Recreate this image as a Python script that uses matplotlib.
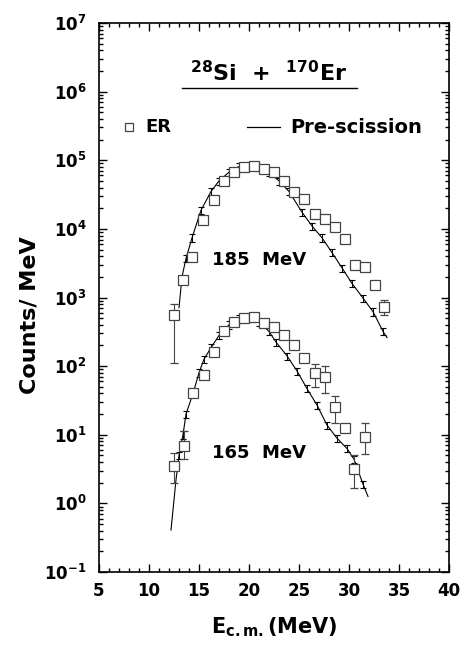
import matplotlib
matplotlib.use("Agg")
import matplotlib.pyplot as plt
import numpy as np
from matplotlib.ticker import FixedLocator, MultipleLocator, NullFormatter

plt.rcParams["font.family"] = ["DejaVu Sans"]
plt.rcParams["font.weight"] = "bold"
plt.rcParams["mathtext.default"] = "bf"

# ER data, 185 MeV
e_er_185 = [12.5, 13.4, 14.3, 15.4, 16.5, 17.5, 18.5, 19.5, 20.5, 21.5, 22.5, 23.5,
            24.5, 25.5, 26.6, 27.6, 28.6, 29.6, 30.6, 31.6, 32.6, 33.5]
y_er_185 = [560, 1800, 3900, 13500, 26000, 50000, 67000, 80000, 83000, 75000, 67000, 50000,
            35000, 27000, 16700, 14000, 10700, 7100, 3000, 2750, 1500, 720]
lo_er_185 = [450, 0, 0, 0, 0, 0, 0, 0, 0, 0, 0, 0,
             0, 0, 0, 0, 0, 0, 0, 0, 150, 170]
hi_er_185 = [240, 0, 0, 0, 0, 0, 0, 0, 0, 0, 0, 0,
             0, 0, 0, 0, 0, 0, 0, 0, 150, 200]

# ER data, 165 MeV
e_er_165 = [12.5, 13.5, 14.4, 15.5, 16.5, 17.5, 18.5, 19.5, 20.5, 21.5, 22.5, 23.5,
            24.5, 25.5, 26.6, 27.6, 28.6, 29.6, 30.5, 31.6]
y_er_165 = [3.5, 6.8, 41, 74, 160, 330, 440, 500, 515, 425, 370, 285,
            200, 130, 79, 69, 25, 12.6, 3.2, 9.3]
lo_er_165 = [1.5, 2.4, 0, 0, 0, 0, 0, 0, 0, 0, 0, 0,
             0, 0, 30, 28, 10, 0, 1.5, 4.0]
hi_er_165 = [2.0, 4.5, 0, 0, 0, 0, 0, 0, 0, 0, 0, 0,
             0, 0, 30, 30, 12, 0, 1.8, 5.5]

# pre-scission calculation
e_pre_185 = [13.0, 13.3, 13.7, 14.3, 15.2, 16.2, 17.0, 18.0, 19.0, 20.0, 21.0, 22.0,
             23.0, 24.0, 25.3, 26.3, 27.3, 28.3, 29.3, 30.3, 31.4, 32.4, 33.4, 33.8]
y_pre_185 = [710, 2000, 3700, 7400, 18700, 35000, 50000, 67000, 81000, 85000, 79000, 66000,
             50000, 35000, 17500, 11000, 7400, 4500, 2700, 1600, 980, 620, 320, 260]

e_pre_165 = [12.2, 12.7, 13.0, 13.4, 13.7, 14.4, 15.0, 15.5, 16.2, 17.0, 18.0, 19.0,
             20.0, 21.0, 22.0, 22.7, 23.8, 24.8, 25.8, 26.8, 27.8, 28.8, 29.8, 30.5,
             31.4, 31.9]
y_pre_165 = [0.41, 2.2, 5.0, 10, 20, 40, 80, 126, 186, 280, 400, 490,
             500, 440, 320, 224, 141, 85, 47, 27, 13.8, 8.9, 6.3, 4.4,
             1.9, 1.26]

x_ticks = [5, 10, 15, 20, 25, 30, 35, 40]
y_exps = [-1, 0, 1, 2, 3, 4, 5, 6, 7]

fig = plt.figure(figsize=(4.68, 6.51), dpi=100)
ax = fig.add_axes([0.2115, 0.1213, 0.748, 0.8434])

for e, y in ((e_pre_185, y_pre_185), (e_pre_165, y_pre_165)):
    y = np.asarray(y, dtype=float)
    ax.plot(e, y, color="black", lw=0.8)
    ax.errorbar(e[2:-1], y[2:-1], yerr=[y[2:-1] * 0.12, y[2:-1] * 0.12], fmt="none",
                ecolor="black", elinewidth=0.7, capsize=2.5, capthick=0.8)

for e, y, lo, hi in ((e_er_185, y_er_185, lo_er_185, hi_er_185),
                     (e_er_165, y_er_165, lo_er_165, hi_er_165)):
    ax.errorbar(e, y, yerr=[lo, hi], fmt="s", mfc="white", mec="#444444", mew=0.9,
                ms=7, ecolor="#444444", elinewidth=0.8, capsize=3, capthick=0.8)

ax.set_yscale("log")
ax.set_xlim(5, 40)
ax.set_ylim(1e-1, 1e7)
ax.set_xticks(x_ticks)
ax.set_xticklabels([str(v) for v in x_ticks])
ax.xaxis.set_minor_locator(MultipleLocator(1))
ax.set_yticks([10.0 ** k for k in y_exps])
ax.set_yticklabels([rf"$\mathbf{{10^{{{k}}}}}$" for k in y_exps])
minor_y = [m * 10.0 ** k for k in y_exps[:-1] for m in range(2, 10)]
ax.yaxis.set_minor_locator(FixedLocator(minor_y))
ax.yaxis.set_minor_formatter(NullFormatter())
ax.tick_params(which="both", direction="in", top=True, right=True, width=1)
ax.tick_params(which="major", length=6, labelsize=12)
ax.tick_params(axis="y", which="major", pad=9)
ax.tick_params(axis="x", which="major", pad=7)
ax.tick_params(which="minor", length=3)
for s in ax.spines.values():
    s.set_linewidth(1.2)
for lab in ax.get_xticklabels() + ax.get_yticklabels():
    lab.set_fontweight("bold")

ax.set_xlabel(r"E$_{\mathrm{c.m.}}$(MeV)", fontsize=15, fontweight="bold", labelpad=11)
ax.set_ylabel("Counts/ MeV", fontsize=16, fontweight="bold")
ax.yaxis.set_label_coords(-0.17, 0.468)

ax.text(21.0, 10 ** 3.55, "185  MeV", ha="center", va="center", fontsize=13, fontweight="bold")
ax.text(21.0, 10 ** 0.73, "165  MeV", ha="center", va="center", fontsize=13, fontweight="bold")

ax.text(22.0, 10 ** 6.27, r"$^{\mathbf{28}}$Si  +  $^{\mathbf{170}}$Er", ha="center", va="center",
        fontsize=16, fontweight="bold")
ax.plot([13.3, 30.8], [10 ** 6.05, 10 ** 6.05], color="black", lw=1.0)

ax.plot([8.0], [10 ** 5.48], "s", mfc="white", mec="#444444", mew=0.9, ms=6)
ax.text(9.6, 10 ** 5.48, "ER", ha="left", va="center", fontsize=13, fontweight="bold")
ax.plot([19.8, 23.1], [10 ** 5.48, 10 ** 5.48], color="black", lw=0.9)
ax.text(24.1, 10 ** 5.48, "Pre-scission", ha="left", va="center", fontsize=14, fontweight="bold")

fig.savefig("out.png", dpi=100)
